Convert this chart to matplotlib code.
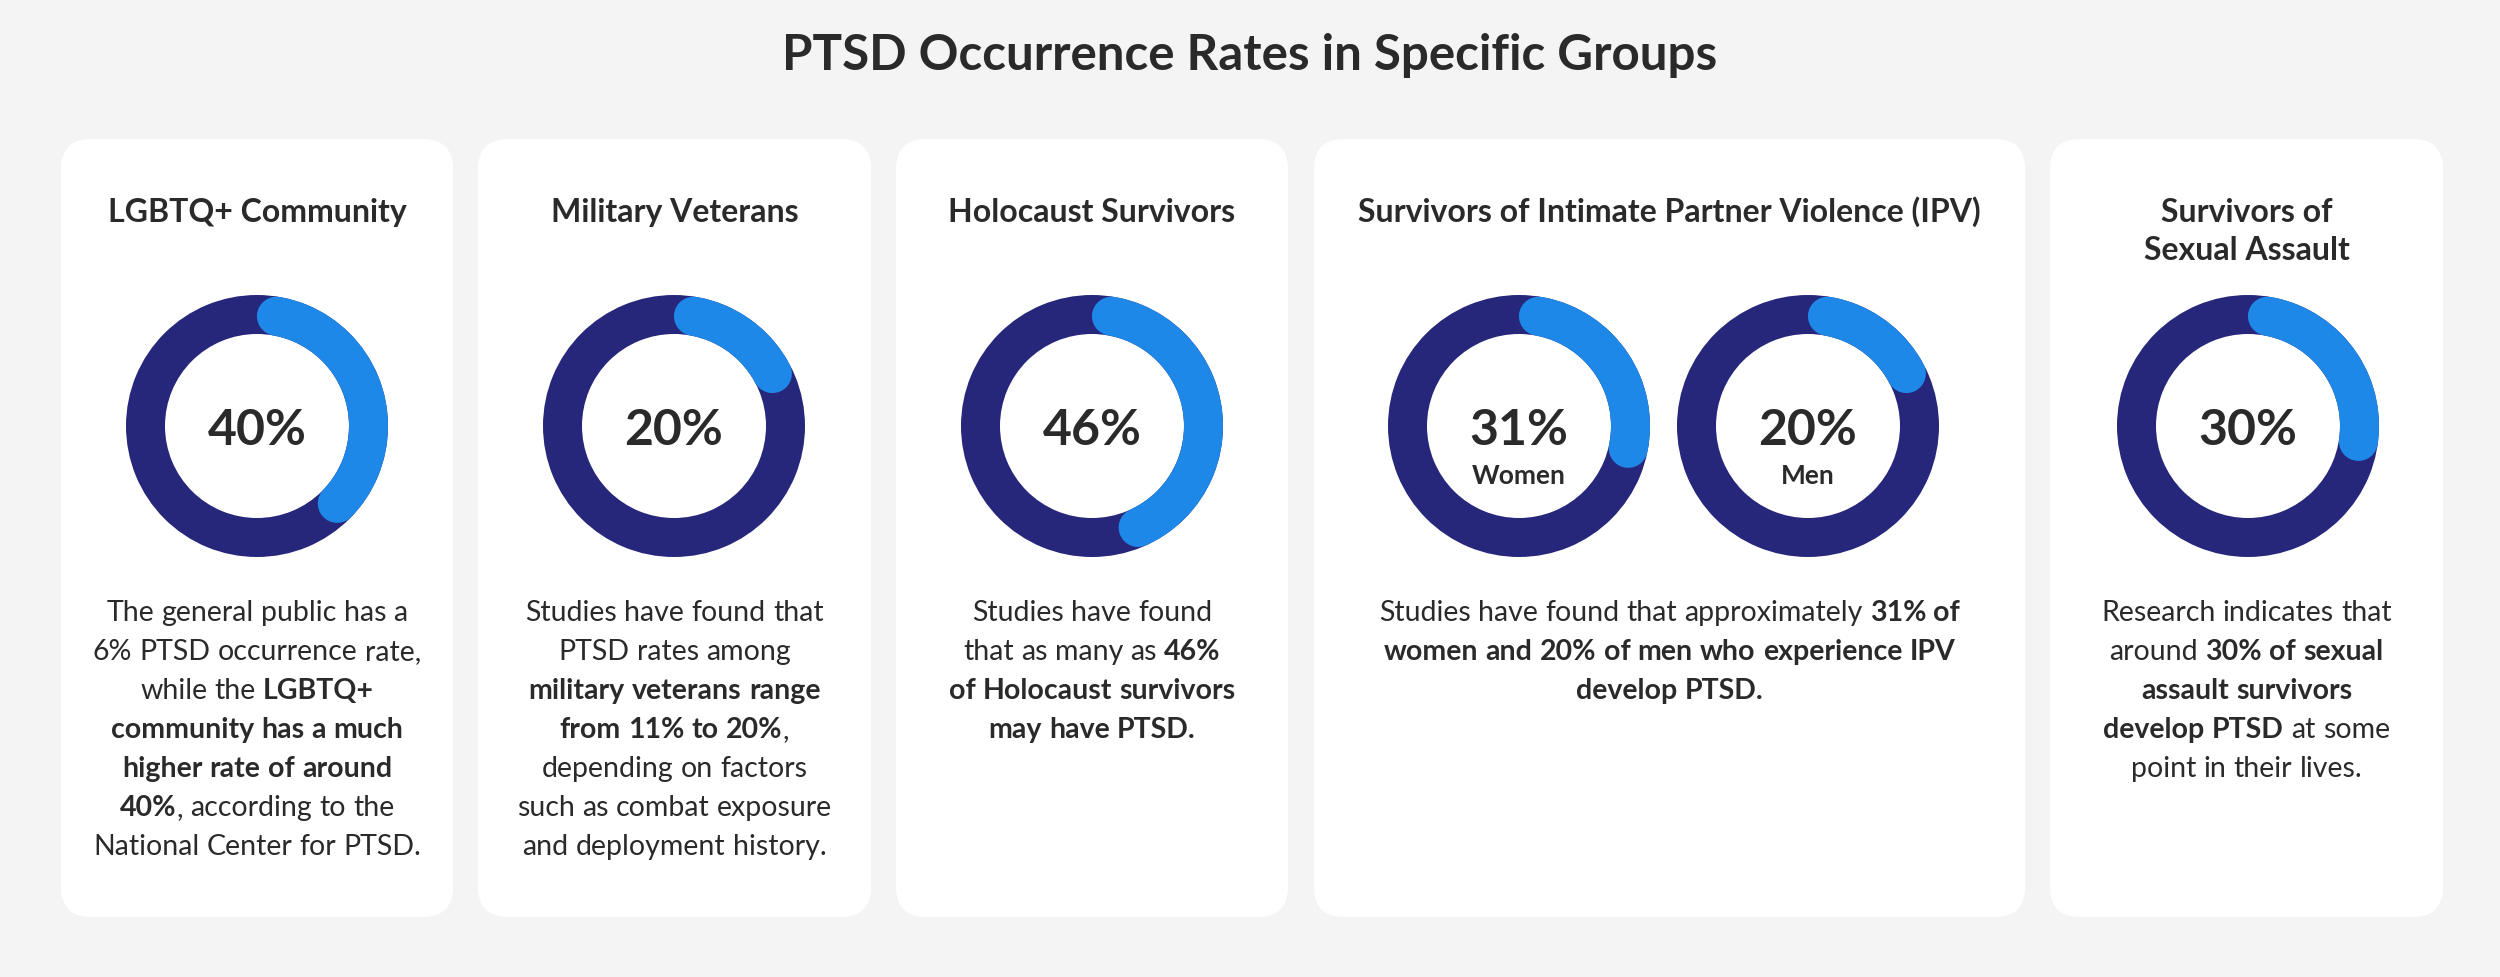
import math
import matplotlib
matplotlib.use("Agg")
import matplotlib.pyplot as plt
from matplotlib.patches import FancyBboxPatch, Wedge

plt.rcParams['font.family'] = ['Lato', 'DejaVu Sans']

TITLE = "PTSD Occurrence Rates in Specific Groups"

headers = [
    ["LGBTQ+ Community"],
    ["Military Veterans"],
    ["Holocaust Survivors"],
    ["Survivors of Intimate Partner Violence (IPV)"],
    ["Survivors of", "Sexual Assault"],
]

# donut values per card (percent) and optional sub labels
values = [[40], [20], [46], [31, 20], [30]]
sublabels = [[None], [None], [None], ["Women", "Men"], [None]]

# body text, ** toggles bold
bodies = [
    ["The general public has a",
     "6% PTSD occurrence rate,",
     "while the **LGBTQ+**",
     "**community has a much**",
     "**higher rate of around**",
     "**40%**, according to the",
     "National Center for PTSD."],
    ["Studies have found that",
     "PTSD rates among",
     "**military veterans range**",
     "**from 11% to 20%**,",
     "depending on factors",
     "such as combat exposure",
     "and deployment history."],
    ["Studies have found",
     "that as many as **46%**",
     "**of Holocaust survivors**",
     "**may have PTSD.**"],
    ["Studies have found that approximately **31% of**",
     "**women and 20% of men who experience IPV**",
     "**develop PTSD.**"],
    ["Research indicates that",
     "around **30% of sexual**",
     "**assault survivors**",
     "**develop PTSD** at some",
     "point in their lives."],
]

# layout in pixels
W, H = 2500, 977
card_x = [(61, 453), (478, 871), (896, 1288), (1314, 2025), (2050, 2443)]
donut_x = [[257], [674], [1092], [1519, 1808], [2248]]
card_top, card_bot = 139, 917
donut_y = 426
r_out, ring_w = 131, 39

BG = "#f4f4f4"
NAVY = "#26267a"
BLUE = "#1e88e8"
TXT = "#2a2a2a"

fig = plt.figure(figsize=(W / 100, H / 100), dpi=100, facecolor=BG)
ax = fig.add_axes([0, 0, 1, 1])
ax.set_xlim(0, W)
ax.set_ylim(H, 0)
ax.set_aspect('equal')
ax.axis('off')
renderer = fig.canvas.get_renderer()


def rich_line(cx, y, line, size):
    tokens = []
    pending = False
    for i, part in enumerate(line.split('**')):
        bold = i % 2 == 1
        for j, w in enumerate(part.split(' ')):
            if j > 0:
                pending = True
            if w:
                tokens.append((w, bold, pending))
                pending = False
    t1 = ax.text(0, 0, "xx", fontsize=size)
    t2 = ax.text(0, 0, "x x", fontsize=size)
    sp = t2.get_window_extent(renderer).width - t1.get_window_extent(renderer).width
    t1.remove()
    t2.remove()
    arts = []
    total = 0
    for w, bold, space in tokens:
        t = ax.text(0, y, w, fontsize=size, color=TXT, va='baseline', ha='left',
                    fontweight='bold' if bold else 'normal')
        wd = t.get_window_extent(renderer).width
        if space:
            total += sp
        arts.append((t, total))
        total += wd
    x0 = cx - total / 2
    for t, off in arts:
        t.set_x(x0 + off)


ax.text(W / 2, 70, TITLE, fontsize=35.5, fontweight='bold', color=TXT,
        ha='center', va='baseline')

for k in range(len(card_x)):
    x0, x1 = card_x[k]
    cx = (x0 + x1) / 2
    ax.add_patch(FancyBboxPatch((x0, card_top), x1 - x0, card_bot - card_top,
                                boxstyle="round,pad=0,rounding_size=30",
                                fc="white", ec="none"))
    for i, h in enumerate(headers[k]):
        ax.text(cx, 222 + i * 38, h, fontsize=23, fontweight='bold', color=TXT,
                ha='center', va='baseline')

    for dx, v, lab in zip(donut_x[k], values[k], sublabels[k]):
        ax.add_patch(Wedge((dx, donut_y), r_out, 0, 360, width=ring_w,
                           fc=NAVY, ec='none'))
        rm = r_out - ring_w / 2
        cap = math.degrees((ring_w / 2) / rm)
        a0, a1 = cap, v / 100 * 360 - cap
        n = 200
        angs = [math.radians(a0 + (a1 - a0) * i / n) for i in range(n + 1)]
        xs = [dx + rm * math.sin(a) for a in angs]
        ys = [donut_y - rm * math.cos(a) for a in angs]
        ax.plot(xs, ys, color=BLUE, lw=ring_w * 0.72, solid_capstyle='round')
        ax.text(dx, 445, f"{v}%", fontsize=36, fontweight='bold', color=TXT,
                ha='center', va='baseline')
        if lab:
            ax.text(dx, 484, lab, fontsize=19, fontweight='bold', color=TXT,
                    ha='center', va='baseline')

    for i, line in enumerate(bodies[k]):
        rich_line(cx, 621 + i * 39, line, 20.5)

fig.savefig("out.png", dpi=100, facecolor=BG)
